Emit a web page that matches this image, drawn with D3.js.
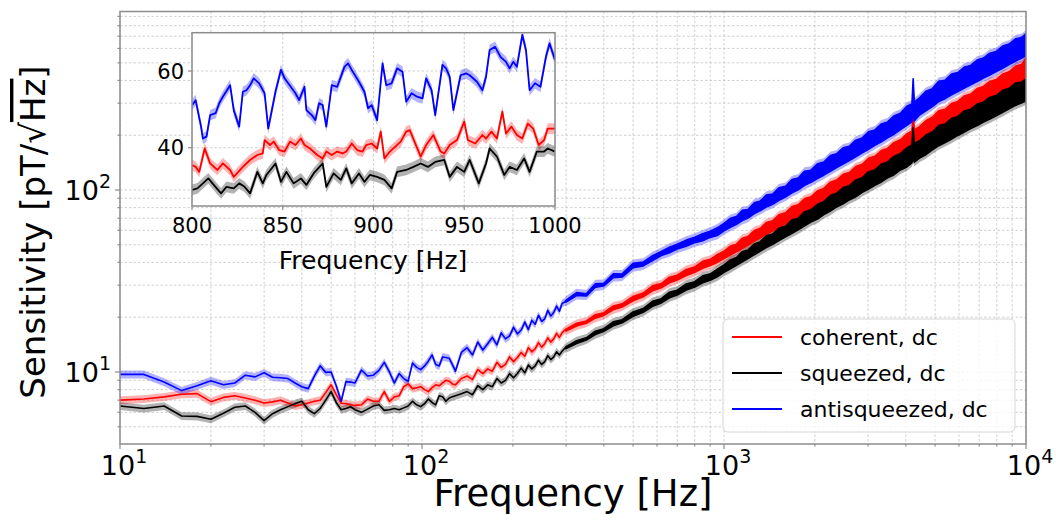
<!DOCTYPE html>
<html>
<head>
<meta charset="utf-8">
<script src="https://cdn.jsdelivr.net/npm/d3@7"></script>
<style>
  body { margin: 0; background: #fff; }
  text { font-family: "DejaVu Sans", sans-serif; fill: #000; }
</style>
</head>
<body>
<svg id="chart" width="1056" height="521"></svg>
<script>
// ---- main plot, clean part (Hz)
const lineFreq = [10,12,14,16,18,20,22,24,26,28,30,32,34,36,38,40,42,44,46,48,50,52,54,56,58,60,
  63,66,69,72,75,78,81,84,87,90,93,96,99,102,105,108,111,114,117,120,123,126,129,
  135,141,147,153,159,165,171,177,183,189,195,201,207,213,219,225,231,237,243,249,255,261,267,273,279,285,291,297];
const coherentLine = [7.0,7.1,7.3,7.55,7.6,6.87,7.25,7.4,7.2,7.0,6.75,6.85,7.0,6.75,6.5,6.6,6.75,6.9,7.0,7.7,8.5,7.5,6.73,6.7,6.6,6.55,
  6.6,7.1,6.9,6.9,7.8,6.9,7.3,7.4,8.3,8.6,8.1,8.2,8.3,8.0,7.8,8.2,8.5,8.4,8.7,9.0,8.9,8.6,8.5,
  9.2,9.5,9.1,10.3,9.8,10.4,10.1,11.3,10.6,11.0,12.1,11.4,12.0,12.8,12.2,13.6,12.9,13.4,14.5,13.7,14.3,15.4,14.6,15.2,16.3,15.5,16.4,17.0];
const squeezedLine = [6.5,6.3,6.5,5.73,5.7,5.5,5.93,6.4,6.5,6.0,5.4,5.9,6.2,6.45,6.7,6.9,6.2,5.9,6.3,7.0,7.8,6.8,6.2,6.3,6.45,6.2,
  6.0,6.25,6.5,6.6,6.15,6.2,6.3,6.2,6.35,6.5,6.9,6.6,6.45,6.7,7.1,6.8,6.6,7.4,7.3,6.9,7.2,7.3,7.4,
  7.6,7.8,7.5,8.4,8.0,8.5,8.3,9.2,8.7,9.0,9.8,9.3,9.8,10.5,9.9,10.9,10.4,10.8,11.6,11.0,11.4,12.3,11.7,12.1,12.9,12.4,13.0,13.5];
const antisqueezedLine = [9.7,9.7,8.8,7.9,8.4,8.96,8.5,8.7,9.6,9.4,9.9,9.35,9.3,9.2,8.7,8.3,8.1,9.5,10.8,9.95,10.0,8.4,6.9,8.85,8.8,8.7,
  10.25,9.5,9.6,10.2,11.3,10.0,8.7,9.8,9.2,8.9,11.2,10.6,10.3,10.8,11.5,12.4,11.0,10.8,12.1,12.0,11.9,11.0,10.1,
  12.8,13.6,12.4,14.6,13.2,14.3,15.5,14.1,16.4,15.2,15.8,17.6,16.2,17.0,18.8,17.1,19.2,18.3,20.5,19.0,19.6,21.8,20.3,21.2,23.0,21.6,23.8,24.3];

// ---- main plot, noisy part: band centre and relative half width of the noise
const bandFreq = [300,325,350,375,400,430,460,500,540,580,620,660,700,750,800,850,900,950,1000,
  1050,1100,1150,1200,1260,1320,1380,1450,1520,1600,1680,1760,1850,1940,2040,2140,2250,2360,2480,2600,2730,2870,
  3010,3160,3320,3480,3650,3840,4030,4190,4230,4270,4440,4660,4900,5140,5400,5670,5950,6250,6560,6890,7230,7590,7970,8370,8790,9230,9690,10000];
const coherentBand = [17,18.2,18.8,20.2,20.8,22.5,23.2,25.3,26.5,28.8,29.8,32,33,35.2,36.5,38.8,40,42,44,
  46.5,48,51,52.5,56,58,61.5,63.5,67.5,70,74.5,77,82,85,90,94,100,104,110,114,121,126,
  134,139,147,153,162,170,180,188,215,190,200,212,224,240,247,262,272,288,298,315,327,344,356,377,392,415,430,462];
const squeezedBand = [13.6,14.6,15.2,16.4,17,18.4,19,20.8,21.8,23.7,24.6,26.5,27.3,29.3,30.3,32.3,33.2,35,37,
  39,40.5,43,44.3,47.2,49,52,53.7,57,59.2,63,65,69.5,72,76,79.5,84.5,88,93,96.5,102,106.5,
  113,117,124,129,136,143,151,158,180,160,167,177,186,199,205,217,225,238,246,259,268,282,291,307,318,336,344,355];
const antisqueezedBand = [24.5,26.8,26.5,29.9,30.2,33.8,33.9,38.5,39.2,42.2,44.8,46.8,48.9,51,53.2,55,57.1,59,62.5,
  66,68,72.5,74,79.5,82,87,89,95,98,105,108,116,119,127,131,140,145,154,159,169,176,
  187,194,206,214,227,238,256,265,335,270,288,308,322,348,357,380,392,415,428,452,468,492,508,537,557,588,605,630];
const bandSpread = [.012,.018,.014,.022,.017,.025,.02,.028,.024,.032,.027,.036,.031,.04,.035,.045,.04,.05,.048,
  .058,.05,.066,.056,.07,.062,.078,.066,.082,.07,.088,.076,.094,.08,.098,.086,.104,.09,.108,.094,.112,.098,
  .116,.102,.12,.106,.124,.11,.128,.12,.22,.125,.116,.132,.12,.136,.124,.14,.128,.142,.13,.146,.134,.148,.136,.15,.138,.152,.14,.15];

// ---- inset, 800-1000 Hz
const insetCoherentFreq = [800,802,804,807,810,814,817,821,823,828,832,836,839,840,843,845,848,851,854,857,860,862,865,869,872,874,877,880,883,885,
  888,891,894,896,899,902,904,906,909,912,915,918,920,923,926,929,933,937,939,942,946,950,952,956,960,962,965,968,971,973,976,979,982,985,988,991,994,996,1000];
const insetCoherent = [35.5,35,33.7,39.8,35.9,34.2,35.9,34.2,32.4,35,36.8,38.1,38.5,42,40.7,41.6,39.4,39,41.6,40.7,42.4,40.7,39.8,38.1,37.2,39,38.1,39,38.5,39,
  41.1,39.4,39,40.7,41.1,39.8,44.2,37.2,39,40.3,41.6,44.2,44.6,41.1,37.7,40.7,43.3,39,38.5,40.7,42,46.8,42,41.1,43.3,42.4,44.2,42.4,49.4,43.7,45.5,43.3,42.4,46.3,45,40.7,42,45,45];
const insetSqueezedFreq = [800,803,806,809,812,816,819,823,826,829,832,836,839,841,846,849,852,856,860,863,867,872,874,878,882,885,888,892,895,898,
  902,906,910,913,918,922,926,930,934,939,942,946,950,953,958,962,964,968,972,975,979,983,986,990,994,996,1000];
const insetSqueezed = [29,29.4,30.7,32,30.3,28.1,29.8,29.4,30.7,29.8,28.1,33.7,30.7,32.9,35.9,31.1,33.7,30.7,32,30.3,33.3,35.9,29.8,33.3,31.6,34.6,30.7,33.3,31.1,32.9,
  32.4,31.6,29.4,33.7,34.2,35,35.9,35,36.3,36.8,32.4,35,33.7,36.8,30.7,35.9,39.8,37.7,32.9,35,34.2,37.2,33.7,39,39,39.8,39];
const insetAntiFreq = [800,802,805,806,808,810,813,815,817,821,823,826,828,830,832,834,837,840,842,846,849,851,853,857,859,862,863,866,868,870,
  872,874,877,880,884,886,888,892,895,897,899,902,905,907,910,913,916,918,921,924,927,929,932,934,938,940,942,944,948,951,
  953,957,960,962,964,967,970,973,975,977,979,982,984,986,989,992,995,997,1000];
const insetAnti = [51.1,52.4,45.5,42.4,42.9,48.5,49,51.6,53.3,56.3,49.8,45.5,54.6,55,56.3,58.1,56.8,54.2,45,54.6,60.3,58.1,56.8,54.2,52.4,55.9,49.8,48.5,47.2,51.6,
  51.1,45.5,56.3,55.9,61.1,62,60.3,57.2,54.6,50.3,51.1,47.2,62,56.3,56.8,60.7,59.8,52,54.2,53.3,52.9,58.1,55,48.5,61.6,60.7,58.5,49.8,58.9,59.4,
  58.9,57.2,55,58.5,65.5,66.3,63.7,62.4,60.7,62.4,61.1,69.4,65.5,55,56.8,55.9,63.7,67.2,62.9];

const labels = ['coherent, dc', 'squeezed, dc', 'antisqueezed, dc'];
const colors = ['#ff0000', '#000000', '#0000ff'];
const xMajor = [10, 100, 1000, 10000];
const yMajor = [10, 100];
const insetXTicks = [800, 850, 900, 950, 1000];
const insetYTicks = [40, 60];

const errFrac = 0.05;   // shaded uncertainty, relative
const insetErr = 1.4;   // shaded uncertainty in the inset, pT/sqrt(Hz)

const svg = d3.select('#chart');
const frameColor = '#8c8c8c';
const gridColor = '#c4c4c4';

const x = d3.scaleLog().domain([10, 10000]).range([120, 1026]);
const y = d3.scaleLog().domain([4.02, 957]).range([444, 11.5]);

svg.append('defs').append('clipPath').attr('id', 'clipMain')
  .append('rect').attr('x', 120).attr('y', 11.5).attr('width', 906).attr('height', 432.5);

// grid
const grid = svg.append('g')
  .attr('stroke', gridColor).attr('stroke-width', 0.8).attr('stroke-dasharray', '2.5,2');
grid.selectAll('.gx').data(x.ticks()).enter().append('line')
  .attr('x1', d => x(d)).attr('x2', d => x(d)).attr('y1', 11.5).attr('y2', 444);
grid.selectAll('.gy').data(y.ticks().filter(d => d > 4.02 && d < 957)).enter().append('line')
  .attr('y1', d => y(d)).attr('y2', d => y(d)).attr('x1', 120).attr('x2', 1026);

// series
const mainData = [
  { line: coherentLine, band: coherentBand },
  { line: squeezedLine, band: squeezedBand },
  { line: antisqueezedLine, band: antisqueezedBand },
].map(s => lineFreq.map((f, i) => ({ f, lo: s.line[i], hi: s.line[i] }))
  .concat(bandFreq.map((f, i) => ({ f, lo: s.band[i] / (1 + bandSpread[i]), hi: s.band[i] * (1 + bandSpread[i]) }))));

const plot = svg.append('g').attr('clip-path', 'url(#clipMain)');
const shade = d3.area().x(d => x(d.f)).y0(d => y(d.lo * (1 - errFrac))).y1(d => y(d.hi * (1 + errFrac)));
const core = d3.area().x(d => x(d.f)).y0(d => y(d.lo)).y1(d => y(d.hi));

mainData.forEach((pts, k) => {
  plot.append('path').attr('d', shade(pts)).attr('fill', colors[k]).attr('fill-opacity', 0.3);
});
mainData.forEach((pts, k) => {
  plot.append('path').attr('d', core(pts)).attr('fill', colors[k])
    .attr('stroke', colors[k]).attr('stroke-width', 1.6).attr('stroke-linejoin', 'round');
});

// frame and ticks
svg.append('rect').attr('x', 120).attr('y', 11.5).attr('width', 906).attr('height', 432.5)
  .attr('fill', 'none').attr('stroke', frameColor).attr('stroke-width', 1.5);

const ticks = svg.append('g').attr('stroke', frameColor).attr('stroke-width', 1.2);
ticks.selectAll('.tx').data(x.ticks()).enter().append('line')
  .attr('x1', d => x(d)).attr('x2', d => x(d)).attr('y1', 444)
  .attr('y2', d => 444 + (xMajor.includes(d) ? 5 : 2.5));
ticks.selectAll('.ty').data(y.ticks().filter(d => d > 4.02 && d < 957)).enter().append('line')
  .attr('y1', d => y(d)).attr('y2', d => y(d)).attr('x1', 120)
  .attr('x2', d => 120 - (yMajor.includes(d) ? 5 : 2.5));

function powerLabel(sel) {
  sel.text('10');
  sel.append('tspan').attr('dy', -12).attr('font-size', 19).text(d => Math.round(Math.log10(d)));
}
svg.selectAll('.xl').data(xMajor).enter().append('text')
  .attr('x', d => x(d) + 4).attr('y', 475).attr('text-anchor', 'middle').attr('font-size', 27)
  .call(powerLabel);
svg.selectAll('.yl').data(yMajor).enter().append('text')
  .attr('x', 111).attr('y', d => y(d) + 10).attr('text-anchor', 'end').attr('font-size', 27)
  .call(powerLabel);

svg.append('text').attr('x', 573).attr('y', 506).attr('text-anchor', 'middle')
  .attr('font-size', 37).text('Frequency [Hz]');

const yl = svg.append('text').attr('transform', 'translate(45,232) rotate(-90)')
  .attr('text-anchor', 'middle').attr('font-size', 34);
yl.append('tspan').text('Sensitivity [pT/\u221A');
yl.append('tspan').style('text-decoration', 'overline').text('Hz');
yl.append('tspan').text(']');

// legend
const leg = svg.append('g');
leg.append('rect').attr('x', 723).attr('y', 319).attr('width', 292).attr('height', 113).attr('rx', 5)
  .attr('fill', '#fff').attr('fill-opacity', 0.8).attr('stroke', '#d6d6d6');
labels.forEach((name, k) => {
  const ly = 337 + k * 36;
  leg.append('line').attr('x1', 732).attr('x2', 782).attr('y1', ly).attr('y2', ly)
    .attr('stroke', colors[k]).attr('stroke-width', 2);
  leg.append('text').attr('x', 800).attr('y', ly + 8).attr('font-size', 22).text(name);
});

// inset
const xi = d3.scaleLinear().domain([800, 1000]).range([192, 555]);
const yi = d3.scaleLinear().domain([24.8, 70]).range([206, 32.7]);
const inset = svg.append('g');
inset.append('rect').attr('x', 192).attr('y', 32.7).attr('width', 363).attr('height', 173.3).attr('fill', '#fff');
inset.append('defs').append('clipPath').attr('id', 'clipInset')
  .append('rect').attr('x', 192).attr('y', 32.7).attr('width', 363).attr('height', 173.3);
const ig = inset.append('g').attr('stroke', gridColor).attr('stroke-width', 0.8).attr('stroke-dasharray', '2.5,2');
ig.selectAll('line.v').data(insetXTicks).enter().append('line').attr('class', 'v')
  .attr('x1', d => xi(d)).attr('x2', d => xi(d)).attr('y1', 32.7).attr('y2', 206);
ig.selectAll('line.h').data(insetYTicks).enter().append('line').attr('class', 'h')
  .attr('y1', d => yi(d)).attr('y2', d => yi(d)).attr('x1', 192).attr('x2', 555);

const insetData = [
  insetCoherentFreq.map((f, i) => ({ f, v: insetCoherent[i] })),
  insetSqueezedFreq.map((f, i) => ({ f, v: insetSqueezed[i] })),
  insetAntiFreq.map((f, i) => ({ f, v: insetAnti[i] })),
];
const ip = inset.append('g').attr('clip-path', 'url(#clipInset)');
const ishade = d3.area().x(d => xi(d.f)).y0(d => yi(d.v - insetErr)).y1(d => yi(d.v + insetErr));
const iline = d3.line().x(d => xi(d.f)).y(d => yi(d.v));
insetData.forEach((pts, k) => {
  ip.append('path').attr('d', ishade(pts)).attr('fill', colors[k]).attr('fill-opacity', 0.3);
  ip.append('path').attr('d', iline(pts)).attr('fill', 'none').attr('stroke', colors[k])
    .attr('stroke-width', 1.8).attr('stroke-linejoin', 'round');
});
inset.append('rect').attr('x', 192).attr('y', 32.7).attr('width', 363).attr('height', 173.3)
  .attr('fill', 'none').attr('stroke', frameColor).attr('stroke-width', 1.5);
const it = inset.append('g').attr('stroke', frameColor).attr('stroke-width', 1.2);
it.selectAll('line.tx').data(insetXTicks).enter().append('line').attr('class', 'tx')
  .attr('x1', d => xi(d)).attr('x2', d => xi(d)).attr('y1', 206).attr('y2', 210);
it.selectAll('line.ty').data(insetYTicks).enter().append('line').attr('class', 'ty')
  .attr('y1', d => yi(d)).attr('y2', d => yi(d)).attr('x1', 192).attr('x2', 188);
inset.selectAll('text.ixl').data(insetXTicks).enter().append('text').attr('class', 'ixl')
  .attr('x', d => xi(d)).attr('y', 233).attr('text-anchor', 'middle').attr('font-size', 21).text(d => d);
inset.selectAll('text.iyl').data(insetYTicks).enter().append('text').attr('class', 'iyl')
  .attr('x', 184).attr('y', d => yi(d) + 7.5).attr('text-anchor', 'end').attr('font-size', 21).text(d => d);
inset.append('text').attr('x', 373).attr('y', 269).attr('text-anchor', 'middle')
  .attr('font-size', 25).text('Frequency [Hz]');
</script>
</body>
</html>
